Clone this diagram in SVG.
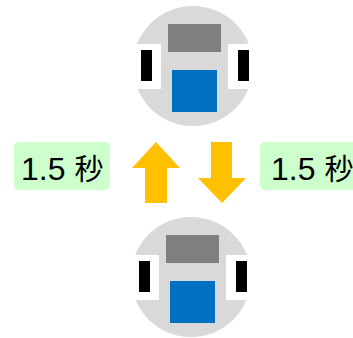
<svg xmlns="http://www.w3.org/2000/svg" width="353" height="338" viewBox="0 0 353 338">
  <style>
    .body { fill: #D9D9D9; }
    .cut { fill: #FFFFFF; }
    .wheel { fill: #000000; }
    .top { fill: #7F7F7F; }
    .base { fill: #0070C0; }
    .arrow { fill: #FFC000; }
    .tag { fill: #CCFFCC; }
    .label { font-family: "Liberation Sans", "Noto Sans CJK JP", sans-serif; font-size: 32px; fill: #000000; }
    .kanji { font-family: "Noto Sans CJK JP", sans-serif; font-size: 29px; }
  </style>
  <defs>
    <!-- robot seen from above, centred on its own origin -->
    <g id="robot">
      <circle class="body" cx="0" cy="0" r="60"/>
      <rect class="cut" x="-64" y="-22" width="32" height="45"/>
      <rect class="cut" x="35" y="-22" width="32" height="45"/>
      <rect class="wheel" x="-52" y="-16" width="11" height="31"/>
      <rect class="wheel" x="45" y="-16" width="11" height="31"/>
      <rect class="top" x="-25" y="-42" width="53" height="28"/>
      <rect class="base" x="-21" y="4" width="45" height="42"/>
    </g>
  </defs>

  <g id="robot-top">
    <use href="#robot" x="193" y="66"/>
  </g>

  <g id="robot-bottom">
    <use href="#robot" x="191" y="277"/>
  </g>

  <g id="connectors">
    <polygon class="arrow" points="156,142 180,168 167,168 167,203 145,203 145,168 132,168"/>
    <polygon class="arrow" points="211,142 232,142 232,178 246,178 222,203 198,178 211,178"/>
  </g>

  <g id="label-left">
    <rect class="tag" x="14" y="142" width="96" height="48" rx="5"/>
    <text class="label" x="21" y="180">1.5 <tspan class="kanji">秒</tspan></text>
  </g>

  <g id="label-right">
    <rect class="tag" x="260" y="142" width="100" height="48" rx="5"/>
    <text class="label" x="271" y="180">1.5 <tspan class="kanji">秒</tspan></text>
  </g>
</svg>
